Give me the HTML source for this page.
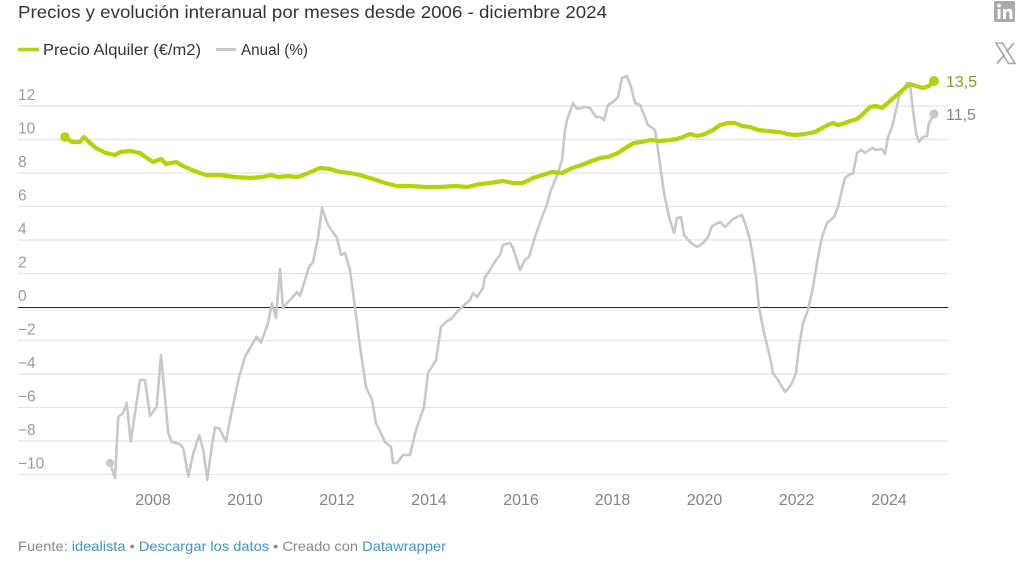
<!DOCTYPE html>
<html>
<head>
<meta charset="utf-8">
<style>
html,body{margin:0;padding:0;background:#fff;}
svg{display:block;font-family:"Liberation Sans",Arial,sans-serif;}
</style>
</head>
<body>
<svg width="1024" height="565" viewBox="0 0 1024 565" xmlns="http://www.w3.org/2000/svg">
<rect width="1024" height="565" fill="#fff"/>
<!-- Title -->
<text x="18" y="18" font-size="17.5" fill="#333" textLength="589" lengthAdjust="spacingAndGlyphs">Precios y evolución interanual por meses desde 2006 - diciembre 2024</text>
<!-- Legend -->
<line x1="18" y1="49.5" x2="39" y2="49.5" stroke="#b5d10a" stroke-width="3.5"/>
<text x="43" y="55" font-size="15.5" fill="#333" textLength="158" lengthAdjust="spacingAndGlyphs">Precio Alquiler (€/m2)</text>
<line x1="216" y1="49.5" x2="236" y2="49.5" stroke="#c8c8cc" stroke-width="3"/>
<text x="241" y="55" font-size="15.5" fill="#333" textLength="67" lengthAdjust="spacingAndGlyphs">Anual (%)</text>
<!-- Icons -->
<rect x="994" y="1" width="21" height="21" rx="2" fill="#a9a9a9"/>
<rect x="997.5" y="9" width="3" height="10" fill="#fff"/>
<circle cx="999" cy="5.6" r="1.8" fill="#fff"/>
<path d="M1003 9 h2.8 v1.6 c0.8-1.3 2-1.9 3.4-1.9 c2.4 0 3.3 1.5 3.3 4.2 V19 h-3 v-5.6 c0-1.3-0.4-2-1.5-2 c-1.2 0-2 0.8-2 2.3 V19 h-3 z" fill="#fff"/>
<path d="M996 43 L1002.5 43 L1015 63.5 L1008.5 63.5 Z" fill="none" stroke="#a9a9a9" stroke-width="1.6"/>
<line x1="1014" y1="43" x2="1006.5" y2="51.8" stroke="#a9a9a9" stroke-width="1.8"/>
<line x1="997" y1="63.5" x2="1004.5" y2="54.8" stroke="#a9a9a9" stroke-width="1.8"/>
<!-- Gridlines -->
<g stroke="#e4e4e4" stroke-width="1.2">
<line x1="18" y1="106" x2="948" y2="106"/>
<line x1="18" y1="139.5" x2="948" y2="139.5"/>
<line x1="18" y1="173" x2="948" y2="173"/>
<line x1="18" y1="206.5" x2="948" y2="206.5"/>
<line x1="18" y1="240" x2="948" y2="240"/>
<line x1="18" y1="273.5" x2="948" y2="273.5"/>
<line x1="18" y1="340.5" x2="948" y2="340.5"/>
<line x1="18" y1="374" x2="948" y2="374"/>
<line x1="18" y1="407.5" x2="948" y2="407.5"/>
<line x1="18" y1="441" x2="948" y2="441"/>
<line x1="18" y1="474.5" x2="948" y2="474.5"/>
</g>
<line x1="18" y1="307.5" x2="948" y2="307.5" stroke="#222" stroke-width="1"/>
<!-- Y labels -->
<g font-size="15.5" fill="#9a9a9a">
<text x="18" y="100">12</text>
<text x="18" y="133.5">10</text>
<text x="18" y="167">8</text>
<text x="18" y="200.5">6</text>
<text x="18" y="234">4</text>
<text x="18" y="267.5">2</text>
<text x="18" y="301">0</text>
<text x="18" y="334.5">−2</text>
<text x="18" y="368">−4</text>
<text x="18" y="401.5">−6</text>
<text x="18" y="435">−8</text>
<text x="18" y="468.5">−10</text>
</g>
<!-- X labels -->
<g font-size="16" fill="#858585" text-anchor="middle">
<text x="153" y="505">2008</text>
<text x="245" y="505">2010</text>
<text x="337" y="505">2012</text>
<text x="429" y="505">2014</text>
<text x="521" y="505">2016</text>
<text x="612.5" y="505">2018</text>
<text x="704.5" y="505">2020</text>
<text x="796.5" y="505">2022</text>
<text x="889" y="505">2024</text>
</g>
<!-- Anual gray line -->
<polyline fill="none" stroke="#c8c8cc" stroke-width="2.6" stroke-linejoin="round" stroke-linecap="round" points="110,463 115,478 118.3,416.7 123,413.3 126.7,402.7 130.7,441.7 140,380 145,380 150,416 156.7,406.7 161,355 168.3,433.3 171.7,441.7 180,444.3 183.3,448.3 188.3,476.7 193.3,453.3 199.3,435 203.3,450 207.3,480 211.7,446.7 215,427.7 219.3,428.3 226,441.7 230,420 238.3,380 245,356.7 256.7,336.7 261,342.7 268,323 272,303 276,318 280,269 283,308 287,303 292,298 297,292 300,296 305,280 309,267 313,262 318,238 322,208 328,225 337,238 341,255 345,253 350,270 355,307 360,347 366,387 372,400 376,423 385,442 391,447 393,463 397,463 403,455 410,455 416,430 424,407 428,373 436,360 441,327 446,322 452,318 457,312 462,307 470,300 473,293 477,297 483,288 485,277 490,270 496,260 500,255 503,245 510,243 513,248 520,270 525,260 529,257 535,237 542,217 546,207 551,190 556,178 562,160 565,130 567,120 573,103 577,109 585,107 590,108 596,117 600,117 604,120 608,105 613,102 618,97 622,78 627,76 631,87 635,103 640,105 645,117 648,125 655,130 659,157 664,193 669,217 674,233 677,218 681,217 684,235 690,242 697,247 703,243 708,237 712,226 720,222 725,227 733,219 739,216 742,215 746,226 750,240 753,257 756,277 759,307 764,333 770,357 773,373 778,380 785,392 791,385 796,373 799,347 803,323 808,310 813,287 818,257 822,237 827,223 834,217 838,207 842,190 845,178 850,174 853,174 857,153 861,150 865,153 872,148 877,150 882,149 885,154 888,137 892,127 896,110 899,97 907,83 910,84 913,110 916,133 919,142 923,137 927,136 929,123 934,114"/>
<!-- Price green line -->
<polyline fill="none" stroke="#b5d10a" stroke-width="4.2" stroke-linejoin="round" stroke-linecap="round" points="65,137 72,142 80,142 84,137 90,143 96,148 100,150 106,153 115,155 120,152 131,151 140,153 147,158 153,162 161,159 166,164 176,162 183,166 192,170 200,173 206,175 220,175 235,177 250,178 262,177 271,175 278,177 288,176 298,177 306,174 313,171 320,168 330,169 340,172 350,173 360,175 373,179 385,183 397,186 410,186 425,187 440,187 455,186 467,187 480,184 490,183 503,181 513,183 523,183 533,178 543,175 552,172 562,173 572,168 582,165 592,161 600,158 608,157 618,153 627,147 634,143 642,142 650,140 660,141 670,140 677,139 683,137 690,134 697,136 705,134 713,130 720,125 728,123 735,123 742,126 750,127 758,130 768,131 780,132 787,134 795,135 805,134 815,132 822,128 828,125 833,123 838,125 845,123 850,121 857,119 863,114 870,107 876,106 882,108 890,101 897,95 904,89 910,84 916,86 923,88 929,86 934,81"/>
<!-- Dots -->
<circle cx="65" cy="137" r="4.8" fill="#b5d10a"/>
<circle cx="934" cy="81" r="5" fill="#b5d10a"/>
<circle cx="110" cy="463" r="4" fill="#c8c8cc"/>
<circle cx="934" cy="114" r="4.5" fill="#c8c8cc"/>
<!-- End labels -->
<text x="946" y="87" font-size="16" fill="#8a9c16">13,5</text>
<text x="946" y="120" font-size="16" fill="#858585">11,5</text>
<!-- Footer -->
<text x="18" y="551" font-size="14" fill="#888" textLength="428" lengthAdjust="spacingAndGlyphs">Fuente: <tspan fill="#3d94cf">idealista</tspan> • <tspan fill="#3d94cf">Descargar los datos</tspan> • Creado con <tspan fill="#3d94cf">Datawrapper</tspan></text>
</svg>
</body>
</html>
